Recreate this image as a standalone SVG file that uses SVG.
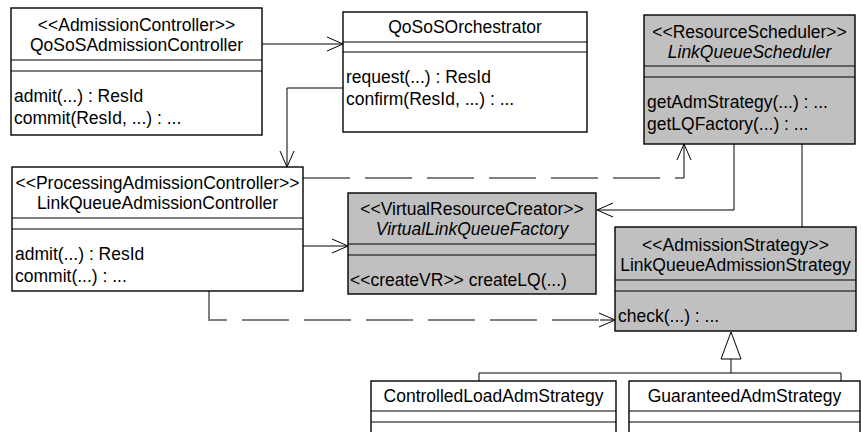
<svg xmlns="http://www.w3.org/2000/svg" width="861" height="432" viewBox="0 0 861 432">
  <style>
    text { font-family: "Liberation Sans", Arial, sans-serif; font-size: 17.5px; fill: #000; }
    .c { text-anchor: middle; }
    .i { font-style: italic; }
    .box { fill: #fff; stroke: #000; stroke-width: 1.4; }
    .box.g { fill: #c0c0c0; }
    .sep { stroke: #000; stroke-width: 1.2; }
    .ln { fill: none; stroke: #000; stroke-width: 1; }
    .dash { fill: none; stroke: #808080; stroke-width: 2; stroke-dasharray: 47 15; }
    .gen { fill: #fff; stroke: #000; stroke-width: 1; }
  </style>
  <defs>
    <marker id="open" viewBox="0 0 18 16" refX="17" refY="8" markerWidth="18" markerHeight="16" markerUnits="userSpaceOnUse" orient="auto">
      <path d="M1,1 L17,8 L1,15" fill="none" stroke="#000" stroke-width="1"/>
    </marker>
  </defs>

  <!-- connectors -->
  <g id="connectors">
    <path class="ln" d="M262,44 H343" marker-end="url(#open)"/>
    <path class="ln" d="M343,88 H287 V167" marker-end="url(#open)"/>
    <path class="dash" d="M303,178 H684"/>
    <path class="ln" d="M684,178 V144" marker-end="url(#open)"/>
    <path class="ln" d="M734,144 V210 H597" marker-end="url(#open)"/>
    <path class="ln" d="M802,144 V227"/>
    <path class="ln" d="M303,246 H348" marker-end="url(#open)"/>
    <path class="dash" d="M209,291 V320 H600"/>
    <path class="ln" d="M600,320 H615" marker-end="url(#open)"/>
    <path class="ln" d="M479,381 V373 H841 V381 M731,373 V359"/>
    <path class="gen" d="M731,332 L741,359 H721 Z"/>
  </g>

  <!-- QoSoSAdmissionController -->
  <g id="qososAdmissionController">
    <rect class="box" x="11" y="8" width="251" height="127"/>
    <path class="sep" d="M11,60 H262 M11,71 H262"/>
    <text class="c" x="136.5" y="31">&lt;&lt;AdmissionController&gt;&gt;</text>
    <text class="c" x="136.5" y="51">QoSoSAdmissionController</text>
    <text x="14" y="102">admit(...) : ResId</text>
    <text x="14" y="124">commit(ResId, ...) : ...</text>
  </g>

  <!-- QoSoSOrchestrator -->
  <g id="qososOrchestrator">
    <rect class="box" x="343" y="12" width="244" height="120"/>
    <path class="sep" d="M343,42 H587 M343,52 H587"/>
    <text class="c" x="465" y="33">QoSoSOrchestrator</text>
    <text x="346" y="83">request(...) : ResId</text>
    <text x="346" y="105">confirm(ResId, ...) : ...</text>
  </g>

  <!-- LinkQueueScheduler -->
  <g id="linkQueueScheduler">
    <rect class="box g" x="644" y="15" width="211" height="129"/>
    <path class="sep" d="M644,66 H855 M644,77 H855"/>
    <text class="c" x="749.5" y="38">&lt;&lt;ResourceScheduler&gt;&gt;</text>
    <text class="c i" x="749.5" y="58">LinkQueueScheduler</text>
    <text x="647" y="108">getAdmStrategy(...) : ...</text>
    <text x="647" y="130">getLQFactory(...) : ...</text>
  </g>

  <!-- LinkQueueAdmissionController -->
  <g id="linkQueueAdmissionController">
    <rect class="box" x="12" y="167" width="291" height="124"/>
    <path class="sep" d="M12,218 H303 M12,229 H303"/>
    <text class="c" x="157.5" y="189">&lt;&lt;ProcessingAdmissionController&gt;&gt;</text>
    <text class="c" x="157.5" y="209">LinkQueueAdmissionController</text>
    <text x="15" y="260">admit(...) : ResId</text>
    <text x="15" y="282">commit(...) : ...</text>
  </g>

  <!-- VirtualLinkQueueFactory -->
  <g id="virtualLinkQueueFactory">
    <rect class="box g" x="348" y="193" width="248" height="101"/>
    <path class="sep" d="M348,244 H596 M348,255 H596"/>
    <text class="c" x="472" y="215">&lt;&lt;VirtualResourceCreator&gt;&gt;</text>
    <text class="c i" x="472" y="235">VirtualLinkQueueFactory</text>
    <text x="350" y="286">&lt;&lt;createVR&gt;&gt; createLQ(...)</text>
  </g>

  <!-- LinkQueueAdmissionStrategy -->
  <g id="linkQueueAdmissionStrategy">
    <rect class="box g" x="615" y="227" width="241" height="104"/>
    <path class="sep" d="M615,280 H856 M615,291 H856"/>
    <text class="c" x="735.5" y="251">&lt;&lt;AdmissionStrategy&gt;&gt;</text>
    <text class="c" x="735.5" y="271">LinkQueueAdmissionStrategy</text>
    <text x="618" y="322">check(...) : ...</text>
  </g>

  <!-- ControlledLoadAdmStrategy -->
  <g id="controlledLoadAdmStrategy">
    <rect class="box" x="371" y="381" width="245" height="70"/>
    <path class="sep" d="M371,411 H616 M371,422 H616"/>
    <text class="c" x="493.5" y="402">ControlledLoadAdmStrategy</text>
  </g>

  <!-- GuaranteedAdmStrategy -->
  <g id="guaranteedAdmStrategy">
    <rect class="box" x="629" y="381" width="231" height="70"/>
    <path class="sep" d="M629,411 H860 M629,422 H860"/>
    <text class="c" x="744.5" y="402">GuaranteedAdmStrategy</text>
  </g>
</svg>
